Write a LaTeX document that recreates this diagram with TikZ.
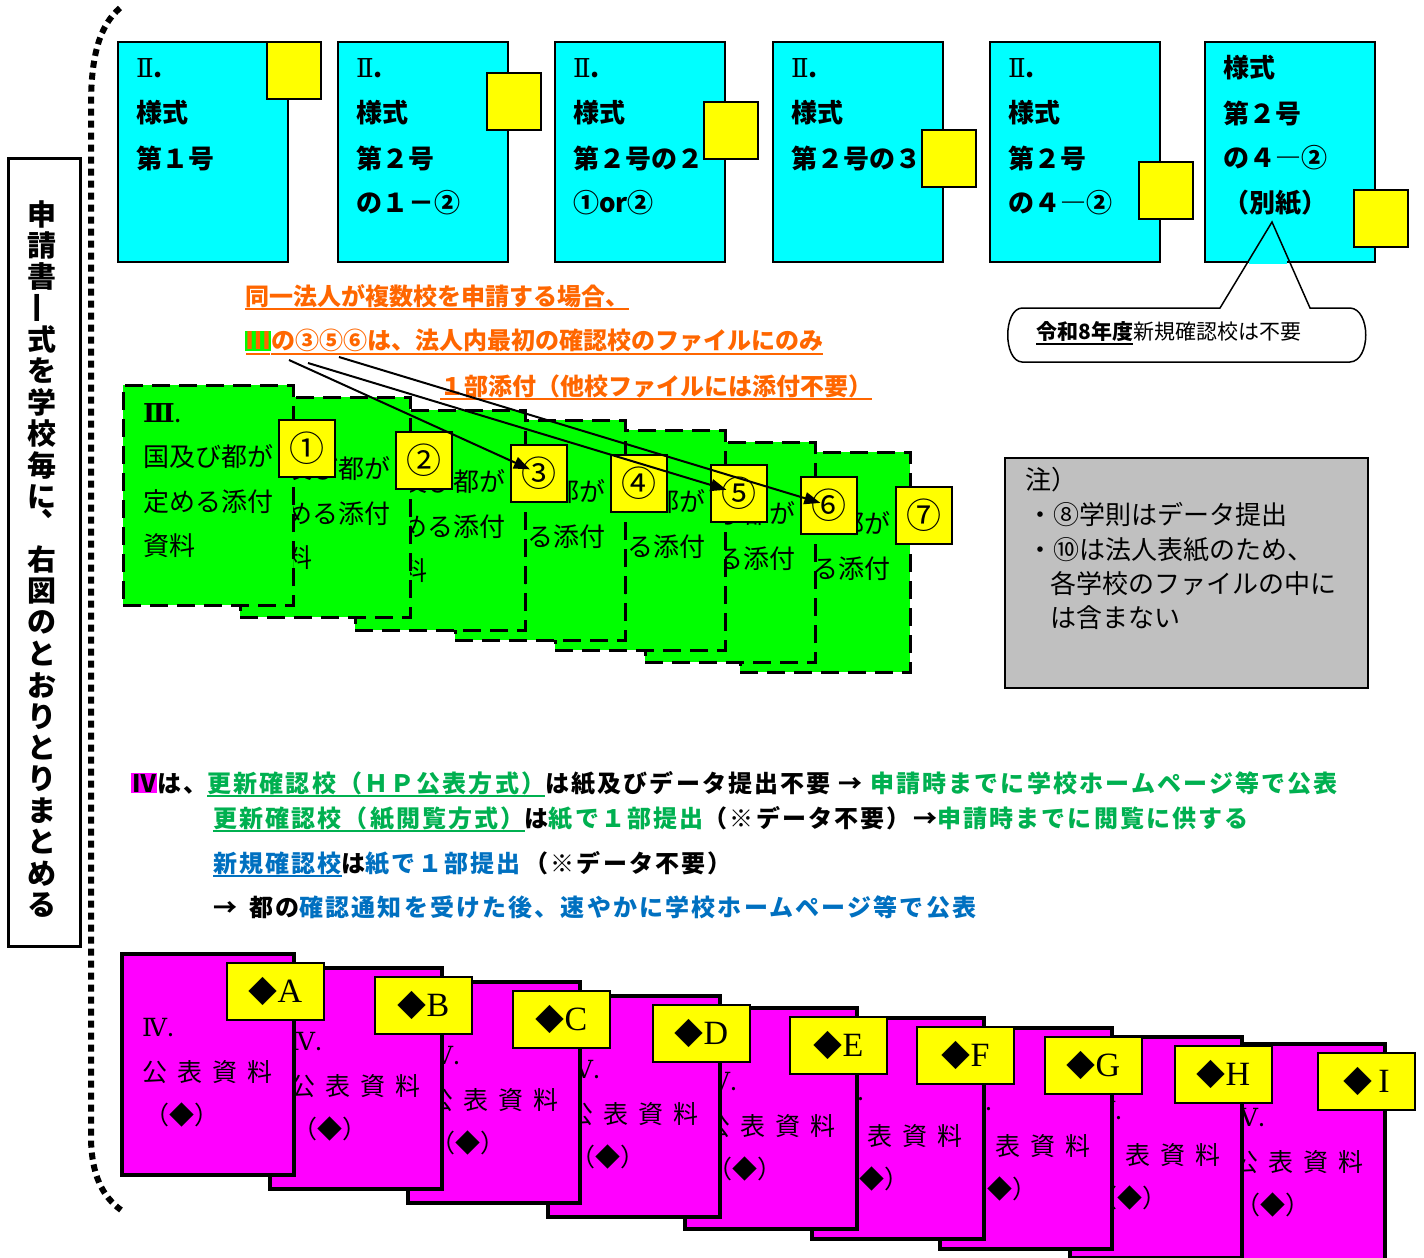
\documentclass[tikz,border=0pt]{standalone}
\usepackage{fontspec}
\setmainfont{Noto Sans CJK JP}
\newfontfamily\jp{Noto Sans CJK JP}
\newfontfamily\jpls{Noto Sans CJK JP}[LetterSpace=9]
\newfontfamily\serifl{Liberation Serif}
\newfontfamily\rom{DejaVu Serif}
\usetikzlibrary{arrows.meta,calc}
\definecolor{cyanbox}{HTML}{00FFFF}
\definecolor{yel}{HTML}{FFFF00}
\definecolor{grn}{HTML}{00FF00}
\definecolor{mag}{HTML}{FF00FF}
\definecolor{gry}{HTML}{C0C0C0}
\definecolor{org}{HTML}{FF6600}
\definecolor{tgreen}{HTML}{00B050}
\definecolor{tblue}{HTML}{0070C0}
\newcommand{\fsz}[1]{\fontsize{#1}{#1}\selectfont}
\newcommand{\ulx}[1]{\setbox0\hbox{#1}\rlap{\smash{\rule[-5pt]{\wd0}{2pt}}}\box0}
\setlength{\fboxsep}{1pt}
\begin{document}
\begin{tikzpicture}[x=1pt,y=-1pt,font=\jp,
  cbox/.style={draw,line width=2.5,fill=cyanbox,minimum width=170,minimum height=220,anchor=north west,inner sep=0,outer sep=0},
  ctab/.style={draw,line width=1.5,fill=yel,minimum width=54,minimum height=57,anchor=north west,inner sep=0,outer sep=0},
  ctxt/.style={anchor=west,inner sep=0,font=\jp\bfseries\fsz{26}},
  otxt/.style={anchor=west,inner sep=0,text=org,font=\jp\bfseries\fsz{24}},
  gcard/.style={draw,line width=3,dash pattern=on 18 off 9,fill=grn,minimum width=170,minimum height=220,anchor=north west,inner sep=0,outer sep=0},
  gtxt/.style={anchor=west,inner sep=0,font=\jp\fsz{26}},
  gtab/.style={draw,line width=1.5,fill=yel,minimum width=56,minimum height=57,anchor=north west,inner sep=0,outer sep=0,font=\jp\fsz{35}},
  arr/.style={line width=2,-{Triangle[length=16,width=12]}},
  note/.style={draw,line width=2,fill=gry,minimum width=363,minimum height=230,anchor=north west,inner sep=0,outer sep=0},
  ntxt/.style={anchor=west,inner sep=0,font=\jp\fsz{26}},
  ivtxt/.style={anchor=west,inner sep=0,font=\jpls\bfseries\fsz{24}},
  mcard/.style={draw,line width=4,fill=mag,minimum width=172,minimum height=221,anchor=north west,inner sep=0,outer sep=0},
  mtxt/.style={anchor=west,inner sep=0,font=\jp\fsz{25}},
  mtab/.style={draw,line width=1.5,fill=yel,minimum width=97,minimum height=57,anchor=north west,inner sep=0,outer sep=0,font=\fsz{28}},
  vch/.style={inner sep=0,font=\jp\bfseries\fsz{29}}
]
\useasboundingbox (0,0) rectangle (1424,1258);

% ---- cyan form boxes
\foreach \n/\x/\ty in {1/118/42, 2/338/73, 3/555/102, 4/773/130, 5/990/162, 6/1205/190} {
  \node[cbox] (f\n) at (\x,42) {};
  \node[ctab] (f\n t) at (\x+149,\ty) {};
}
\foreach \s [count=\i from 0] in {{\rom\mdseries Ⅱ}.,様式,第１号}
  \node[ctxt] (fa\i) at ($(f1.north west)+(18,26+45*\i)$) {\s};
\foreach \s [count=\i from 0] in {{\rom\mdseries Ⅱ}.,様式,第２号,の１－②}
  \node[ctxt] (fb\i) at ($(f2.north west)+(18,26+45*\i)$) {\s};
\foreach \s [count=\i from 0] in {{\rom\mdseries Ⅱ}.,様式,第２号の２,①or②}
  \node[ctxt] (fc\i) at ($(f3.north west)+(18,26+45*\i)$) {\s};
\foreach \s [count=\i from 0] in {{\rom\mdseries Ⅱ}.,様式,第２号の３}
  \node[ctxt] (fd\i) at ($(f4.north west)+(18,26+45*\i)$) {\s};
\foreach \s [count=\i from 0] in {{\rom\mdseries Ⅱ}.,様式,第２号,の４―②}
  \node[ctxt] (fe\i) at ($(f5.north west)+(18,26+45*\i)$) {\s};
\foreach \s [count=\i from 0] in {様式,第２号,の４―②,（別紙）}
  \node[ctxt] (ff\i) at ($(f6.north west)+(18,26+45*\i)$) {\s};

% ---- callout
\draw[cyanbox,line width=3] (1249,262) -- (1287,262);
\draw[line width=1.5] (1220,308) -- (1272,222) -- (1310,308) -- (1350,308)
  .. controls (1371,309) and (1371,361) .. (1350,362) -- (1022,362)
  .. controls (1003,361) and (1003,309) .. (1022,308) -- cycle;
\node[anchor=west,inner sep=0,font=\jp\fsz{21}] (ct) at (1036,332) {\ulx{\bfseries 令和8年度}新規確認校は不要};

% ---- orange remarks
\node[otxt] (o1) at (245,296) {\ulx{同一法人が複数校を申請する場合、}};
\node[otxt] (o2) at (245,341) {\colorbox{grn}{\ulx{Ⅲ}}\ulx{の③⑤⑥は、法人内最初の確認校のファイルにのみ}};
\node[otxt] (o3) at (440,386) {\ulx{１部添付（他校ファイルには添付不要）}};

% ---- green cards
\foreach \n/\x/\y/\s in {7/740/452/⑦, 6/645/442/⑥, 5/555/430/⑤, 4/455/420/④, 3/355/410/③, 2/240/397/②, 1/123/385/①} {
  \node[gcard] (g\n) at (\x,\y) {};
  \node[gtxt] (g\n-a) at ($(g\n.north west)+(20,28)$) {{\rom\bfseries Ⅲ}.};
  \node[gtxt] (g\n-b) at ($(g\n.north west)+(20,72)$) {国及び都が};
  \node[gtxt] (g\n-c) at ($(g\n.north west)+(20,117)$) {定める添付};
  \node[gtxt] (g\n-d) at ($(g\n.north west)+(20,161)$) {資料};
  \node[gtab] (t\n) at ($(g\n.north west)+(156,35)$) {\s};
}
\coordinate (s3) at (289,360);
\coordinate (s5) at (308,363);
\coordinate (s6) at (339,357);
\draw[arr,shorten >=10] (s3) -- (t3.center);
\draw[arr,shorten >=13] (s5) -- (t5.center);
\draw[arr,shorten >=9] (s6) -- (t6.center);

% ---- note box
\node[note] (nt) at (1005,458) {};
\node[ntxt] (n1) at (1025,480) {注）};
\node[ntxt] (n2) at (1027,515) {・⑧学則はデータ提出};
\node[ntxt] (n3) at (1027,550) {・⑩は法人表紙のため、};
\node[ntxt] (n4) at (1050,584) {各学校のファイルの中に};
\node[ntxt] (n5) at (1050,618) {は含まない};

% ---- IV explanation
\node[ivtxt] (iv1) at (131,783) {\colorbox{mag}{Ⅳ}は、\textcolor{tgreen}{\ulx{更新確認校（ＨＰ公表方式）}}は紙及びデータ提出不要 → \textcolor{tgreen}{申請時までに学校ホームページ等で公表}};
\node[ivtxt] (iv2) at (213,818) {\textcolor{tgreen}{\ulx{更新確認校（紙閲覧方式）}}は\textcolor{tgreen}{紙で１部提出}（※データ不要）→\textcolor{tgreen}{申請時までに閲覧に供する}};
\node[ivtxt] (iv3) at (213,863) {\textcolor{tblue}{\ulx{新規確認校}}は\textcolor{tblue}{紙で１部提出}\hspace{4pt}（※データ不要）};
\node[ivtxt] (iv4) at (213,907) {→\hspace{12pt}都の\textcolor{tblue}{確認通知を受けた後、速やかに学校ホームページ等で公表}};

% ---- magenta cards
\foreach \n/\x/\y/\s in {I/1213/1044/{\hspace{6pt}I}, H/1070/1037/H, G/940/1028/G, F/812/1018/F, E/685/1008/E, D/548/996/D, C/408/982/C, B/270/968/B, A/122/954/A} {
  \node[mcard] (m\n) at (\x,\y) {};
  \node[mtxt] (m\n-a) at ($(m\n.north west)+(20,74)$) {{\rom Ⅳ}.};
  \node[mtxt] (m\n-b) at ($(m\n.north west)+(20,118)$) {公\hspace{10pt}表\hspace{10pt}資\hspace{10pt}料};
  \node[mtxt] (m\n-c) at ($(m\n.north west)+(22,161)$) {（◆）};
  \node[mtab] (u\n) at ($(m\n.north west)+(105,9)$) {{\jp\fsz{29}◆}{\serifl\fsz{34}\s}};
}

% ---- left label and dotted bracket
\node[draw,line width=3,fill=white,minimum width=72,minimum height=788,anchor=north west,inner sep=0,outer sep=0] (lb) at (8,158) {};
\foreach \c/\r/\dx/\dy [count=\i from 0] in {申/0/0/0, 請/0/0/0, 書/0/0/0, 一/90/0/0, 式/0/0/0, を/0/0/0, 学/0/0/0, 校/0/0/0, 毎/0/0/0, に/0/0/0, 、/0/14/-14, 右/0/0/0, 図/0/0/0, の/0/0/0, と/0/0/0, お/0/0/0, り/0/0/0, と/0/0/0, り/0/0/0, ま/0/0/0, と/0/0/0, め/0/0/0, る/0/0/0}
  \node[vch,rotate=\r] (v\i) at (42+\dx,214+31.4*\i+\dy) {\c};
\draw[line width=6,dash pattern=on 7 off 5] (120,8) .. controls (100,25) and (91,55) .. (91,105) -- (91,1140) .. controls (92,1175) and (102,1196) .. (121,1210);
\end{tikzpicture}
\end{document}
